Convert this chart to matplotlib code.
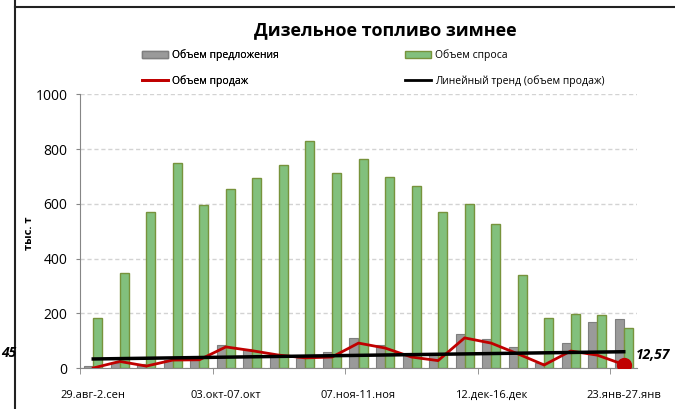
import matplotlib
matplotlib.use('Agg')
import matplotlib.pyplot as plt
from matplotlib.lines import Line2D
from matplotlib.patches import Patch
import numpy as np

plt.rcParams['font.family'] = ['Open Sans', 'DejaVu Sans']

# weekly periods
weeks = ['29.авг-2.сен', '05.сен-09.сен', '12.сен-16.сен', '19.сен-23.сен',
         '26.сен-30.сен', '03.окт-07.окт', '10.окт-14.окт', '17.окт-21.окт',
         '24.окт-28.окт', '31.окт-04.ноя', '07.ноя-11.ноя', '14.ноя-18.ноя',
         '21.ноя-25.ноя', '28.ноя-02.дек', '05.дек-09.дек', '12.дек-16.дек',
         '19.дек-23.дек', '26.дек-30.дек', '09.янв-13.янв', '16.янв-20.янв',
         '23.янв-27.янв']

offer = [6, 18, 15, 30, 33, 85, 70, 46, 38, 60, 110, 85, 56, 56, 124, 106,
         76, 18, 90, 168, 178]
demand = [183, 348, 569, 748, 594, 654, 693, 742, 830, 714, 762, 698, 664,
          570, 599, 526, 340, 182, 196, 193, 147]
sales = [0, 24, 7, 29, 30, 77, 63, 47, 37, 40, 91, 73, 40, 27, 110, 91, 52,
         11, 62, 47, 12.57]

last_label = '12,57'
left_label = '45'

x = np.arange(len(weeks))
coef = np.polyfit(x, sales, 1)
trend = np.polyval(coef, x)

fig = plt.figure(figsize=(6.75, 4.09), dpi=100)
ax = fig.add_axes([80 / 675, 1 - 368 / 409, 557 / 675, 273.7 / 409])

w = 0.34
ax.bar(x - w / 2, offer, w, color='#9a9a9a', edgecolor='#7f7f7f', linewidth=0.8, zorder=2)
ax.bar(x + w / 2, demand, w, color='#82c07d', edgecolor='#77933c', linewidth=1.0, zorder=2)
ax.plot(x, sales, color='#c00000', lw=2, zorder=3)
ax.plot(x, trend, color='black', lw=2.5, zorder=4)
ax.plot(x[-1], sales[-1], 'o', color='#c00000', ms=10, zorder=5)
ax.annotate(last_label, (x[-1], sales[-1]), xytext=(9, 7), textcoords='offset points',
            fontsize=10, fontweight='bold', fontstyle='italic', va='center', ha='left',
            annotation_clip=False)

ax.set_xlim(-0.5, len(weeks) - 0.5)
ax.set_ylim(0, 1000)
ax.set_yticks([0, 200, 400, 600, 800, 1000])
ax.yaxis.grid(True, ls=(0, (3, 2)), color='#d3d3d3', lw=1)
ax.set_axisbelow(True)

ax.set_xticks(x[::5])
ax.set_xticklabels(weeks[::5])
ax.set_xticks(np.arange(-0.5, len(weeks) - 1, 5), minor=True)
ax.tick_params(axis='x', which='major', length=0, pad=16, labelsize=8)
ax.tick_params(axis='x', which='minor', length=4, color='#868686')
ax.tick_params(axis='y', length=3, color='#868686', pad=6, labelsize=10)

for s in ['top', 'right']:
    ax.spines[s].set_visible(False)
for s in ['left', 'bottom']:
    ax.spines[s].set_color('#868686')

fig.text(30 / 675, 1 - 233 / 409, 'тыс. т', rotation=90, fontsize=8,
         fontweight='bold', ha='center', va='center')
fig.text(385 / 675, 1 - 30 / 409, 'Дизельное топливо зимнее', fontsize=13,
         fontweight='bold', ha='center', va='center')
fig.text(1 / 675, 1 - 353 / 409, left_label, fontsize=10, fontweight='bold',
         fontstyle='italic', ha='left', va='center')

h1 = [Patch(facecolor='#9a9a9a', edgecolor='#7f7f7f'),
      Line2D([], [], color='#c00000', lw=2)]
h2 = [Patch(facecolor='#82c07d', edgecolor='#77933c'),
      Line2D([], [], color='black', lw=2)]
lg1 = fig.legend(h1, ['Объем предложения', 'Объем продаж'], loc='center left',
                 bbox_to_anchor=(142 / 675, 1 - 68 / 409), frameon=False,
                 fontsize=7.5, borderpad=0, borderaxespad=0, handlelength=2.5,
                 handleheight=0.6, handletextpad=0.4, labelspacing=1.3)
fig.add_artist(lg1)
fig.legend(h2, ['Объем спроса', 'Линейный тренд (объем продаж)'], loc='center left',
           bbox_to_anchor=(405 / 675, 1 - 68 / 409), frameon=False,
           fontsize=7.5, borderpad=0, borderaxespad=0, handlelength=2.5,
           handleheight=0.6, handletextpad=0.4, labelspacing=1.3)

# outer frame lines
fig.add_artist(Line2D([15 / 675, 15 / 675], [0, 1], color='#222222', lw=1.5))
fig.add_artist(Line2D([15 / 675, 1], [1 - 6.5 / 409, 1 - 6.5 / 409], color='#222222', lw=1.5))

fig.savefig('out.png', dpi=100)
